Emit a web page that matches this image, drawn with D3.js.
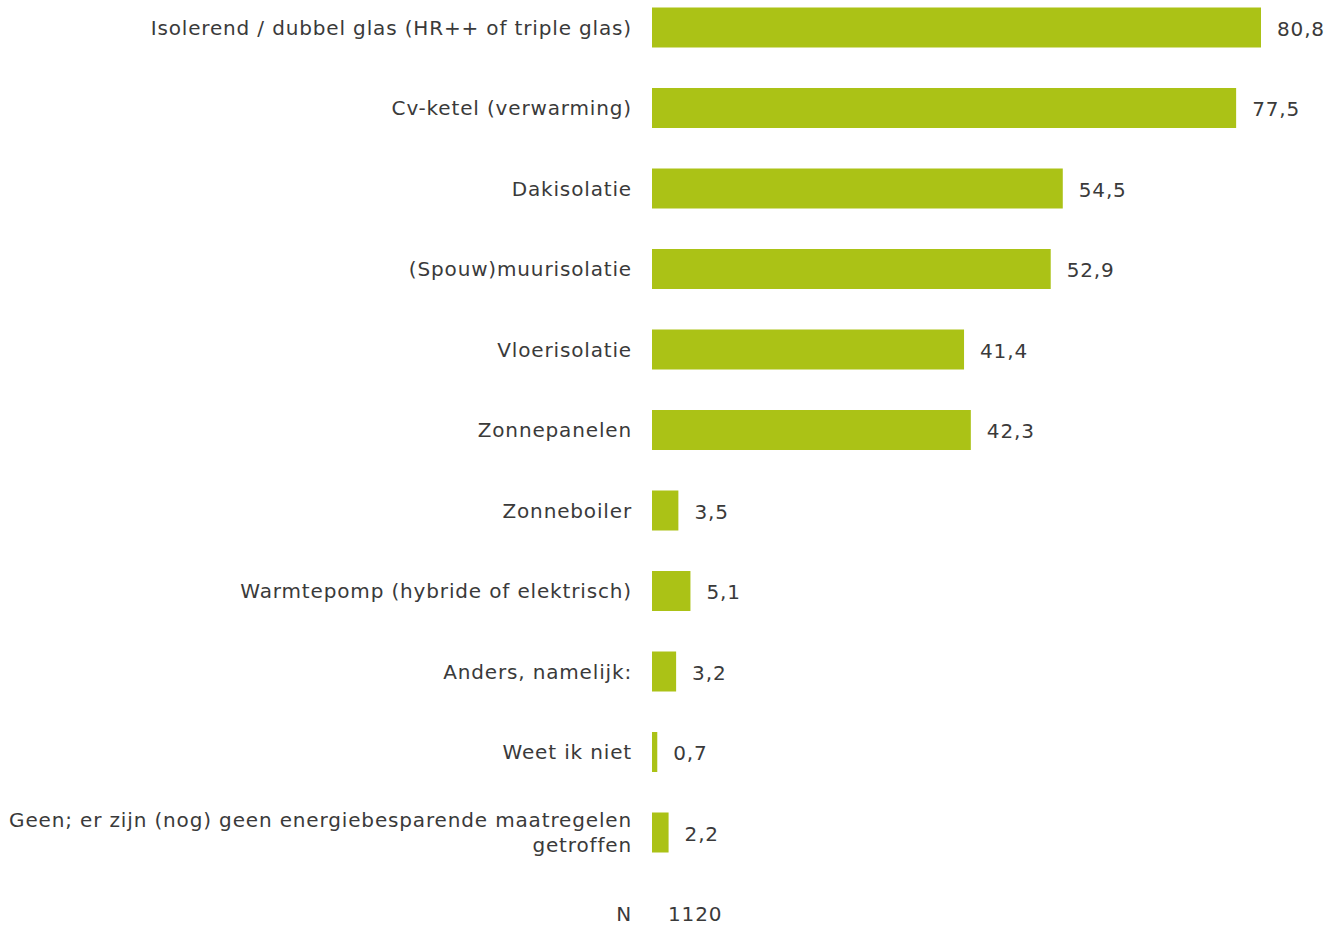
<!DOCTYPE html>
<html>
<head>
<meta charset="utf-8">
<script src="https://cdn.jsdelivr.net/npm/d3@7"></script>
<style>
  body { margin: 0; background: #fff; }
  text { font-family: "DejaVu Sans", Verdana, sans-serif; fill: #3a3a3a; letter-spacing: 0.85px; }
</style>
</head>
<body>
<div id="chart"></div>
<script>
const categories = [
  'Isolerend / dubbel glas (HR++ of triple glas)',
  'Cv-ketel (verwarming)',
  'Dakisolatie',
  '(Spouw)muurisolatie',
  'Vloerisolatie',
  'Zonnepanelen',
  'Zonneboiler',
  'Warmtepomp (hybride of elektrisch)',
  'Anders, namelijk:',
  'Weet ik niet',
  'Geen; er zijn (nog) geen energiebesparende maatregelen|getroffen'
]
const values = [80.8, 77.5, 54.5, 52.9, 41.4, 42.3, 3.5, 5.1, 3.2, 0.7, 2.2]
const nLabel = 'N'
const nValue = 1120

const width = 1341
const height = 927

const svg = d3.select('#chart')
  .append('svg')
  .attr('width', width)
  .attr('height', height)

const rows = categories.concat([nLabel])

const y = d3.scalePoint()
  .domain(rows)
  .range([27.5, 913])

const x = d3.scaleLinear()
  .domain([0, 80.8])
  .range([652, 1261])

const barH = 40
const fs = 20
const fmt = v => d3.format('.1f')(v).replace('.', ',')

svg.selectAll('.bar')
  .data(values)
  .enter()
  .append('rect')
  .attr('class', 'bar')
  .attr('x', x(0))
  .attr('y', (d, i) => y(categories[i]) - barH / 2)
  .attr('width', d => x(d) - x(0))
  .attr('height', barH)
  .attr('fill', '#abc216')

svg.selectAll('.val')
  .data(values)
  .enter()
  .append('text')
  .attr('class', 'val')
  .attr('x', d => x(d) + 16)
  .attr('y', (d, i) => y(categories[i]) + 8)
  .attr('font-size', fs)
  .text(d => fmt(d))

// category labels, some split over two lines
svg.selectAll('.cat')
  .data(categories)
  .enter()
  .append('text')
  .attr('class', 'cat')
  .attr('text-anchor', 'end')
  .attr('font-size', fs)
  .each(function(d) {
    const lines = d.split('|')
    const t = d3.select(this)
    const lh = 25
    const y0 = y(d) + 7 - (lines.length - 1) * lh / 2
    lines.forEach((l, j) => {
      t.append('tspan')
        .attr('x', 632)
        .attr('y', y0 + j * lh)
        .text(l)
    })
  })

svg.append('text')
  .attr('x', 632)
  .attr('y', y(nLabel) + 8)
  .attr('text-anchor', 'end')
  .attr('font-size', fs)
  .text(nLabel)

svg.append('text')
  .attr('x', 668)
  .attr('y', y(nLabel) + 8)
  .attr('font-size', fs)
  .text(nValue)
</script>
</body>
</html>
